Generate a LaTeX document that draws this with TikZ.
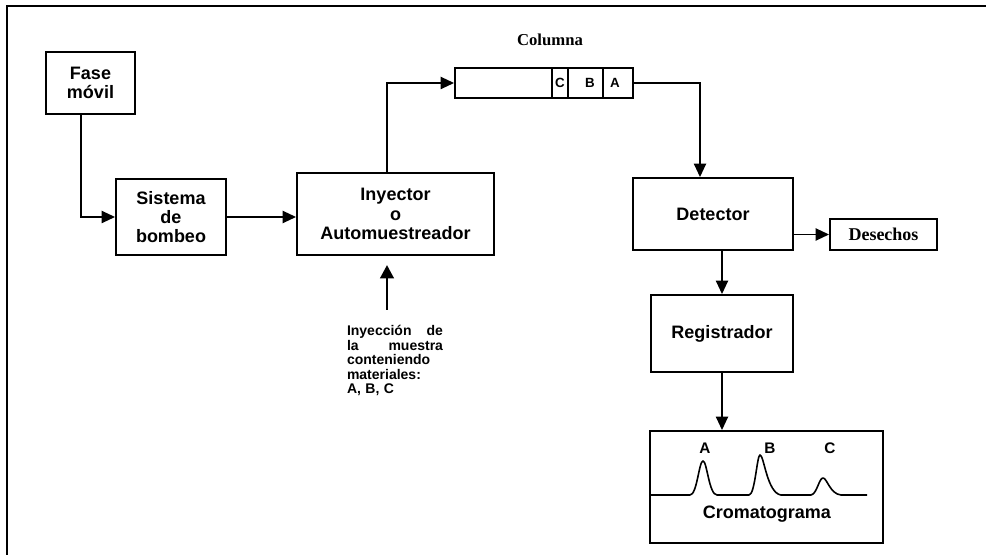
\documentclass[tikz,border=0pt]{standalone}
\usepackage{fontspec}
\setmainfont{Liberation Sans}
\newfontfamily\timesf{Liberation Serif}
\usepackage{tikz}
\usetikzlibrary{positioning,calc,arrows.meta}

\begin{document}
\begin{tikzpicture}[x=0.75pt,y=-0.75pt,
    box/.style={draw,line width=1.4pt,inner sep=0pt,align=center,
      font=\fontsize{13.5}{14.5}\selectfont\bfseries},
    conn/.style={line width=1.4pt,-{Triangle[length=10pt,width=9pt]}},
    thick arrow/.style={line width=2.2pt,-{Triangle[length=10pt,width=10pt]}}]
    \useasboundingbox (0,0) rectangle (986,555);
    % marco
    \draw[line width=1.4pt] (7,555) -- (7,6) -- (986,6);
    % bloques
    \node[box,minimum width=66.75pt,minimum height=46.5pt] (fase) at (90.5,83) {Fase\\móvil};
    \node[box,minimum width=82.5pt,minimum height=57pt] (bombeo) at (171,217) {Sistema\\de\\bombeo};
    \node[box,minimum width=147.75pt,minimum height=61.5pt] (inyector) at (395.5,214) {Inyector\\o\\Automuestreador};
    \node[box,minimum width=133.5pt,minimum height=22.5pt] (columna) at (544,83) {};
    \node[font=\timesf\fontsize{12.5}{13}\selectfont\bfseries] (colname) at (550,40) {Columna};
    \node[box,minimum width=120pt,minimum height=54pt] (detector) at (713,214) {Detector};
    \node[box,minimum width=80.25pt,minimum height=23.25pt,font=\timesf\fontsize{13.5}{14}\selectfont\bfseries] (desechos) at (883.5,234.5) {Desechos};
    \node[box,minimum width=106.5pt,minimum height=57.75pt] (registrador) at (722,333.5) {Registrador};
    \node[box,minimum width=174.75pt,minimum height=84pt] (croma) at (766.5,487) {};
    % bandas en la columna
    \draw[line width=1.4pt] (552,68) -- (552,98) (568,68) -- (568,98) (603,68) -- (603,98);
    \node[font=\fontsize{10}{10}\selectfont\bfseries] (bandC) at (560,83) {C};
    \node[font=\fontsize{10}{10}\selectfont\bfseries] (bandB) at (590,83) {B};
    \node[font=\fontsize{10}{10}\selectfont\bfseries] (bandA) at (615,83) {A};
    % muestra
    \node[anchor=north,align=left,text width=72pt,inner sep=0pt,font=\bfseries] (muestra) at (395,325)
      {\fontsize{10.5}{10.9}\selectfont Inyección\hfill de\\la\hfill muestra\\conteniendo\\materiales:\\A, B, C\par};
    \coordinate (baseiny) at (387,310);
    \coordinate (tipiny) at (387,265);
    % flujo
    \draw[conn] ([xshift=-7.1pt]fase.south) |- (bombeo.west);
    \draw[conn] (bombeo.east) -- (bombeo.east -| inyector.west);
    \draw[conn] ([xshift=-6.4pt]inyector.north) |- (columna.west);
    \draw[conn] (columna.east) -| ([xshift=-9.75pt]detector.north);
    \draw[conn] (detector.east |- desechos.west) -- (desechos.west);
    \draw[conn] (registrador.north |- detector.south) -- (registrador.north);
    \draw[conn] (registrador.south) -- (registrador.south |- croma.north);
    \draw[thick arrow] (baseiny) -- (tipiny);
    % cromatograma
    \draw[line width=1.2pt,line join=round]
      (650,495) -- (690,495) .. controls (697,495) and (699,461) .. (703,461)
      .. controls (707,461) and (709,495) .. (717,495) -- (749,495)
      .. controls (755,495) and (757,455) .. (760,455)
      .. controls (764,455) and (767,493) .. (781,495) -- (811,495)
      .. controls (817,494) and (819,478) .. (823,478)
      .. controls (827,478) and (830,494) .. (841,495) -- (867,495);
    \node[font=\fontsize{11.5}{12}\selectfont\bfseries] (pA) at (705,448) {A};
    \node[font=\fontsize{11.5}{12}\selectfont\bfseries] (pB) at (770,448) {B};
    \node[font=\fontsize{11.5}{12}\selectfont\bfseries] (pC) at (830,448) {C};
    \node[font=\fontsize{13.5}{14}\selectfont\bfseries] (cromtxt) at (767,514) {Cromatograma};
\end{tikzpicture}
\end{document}
